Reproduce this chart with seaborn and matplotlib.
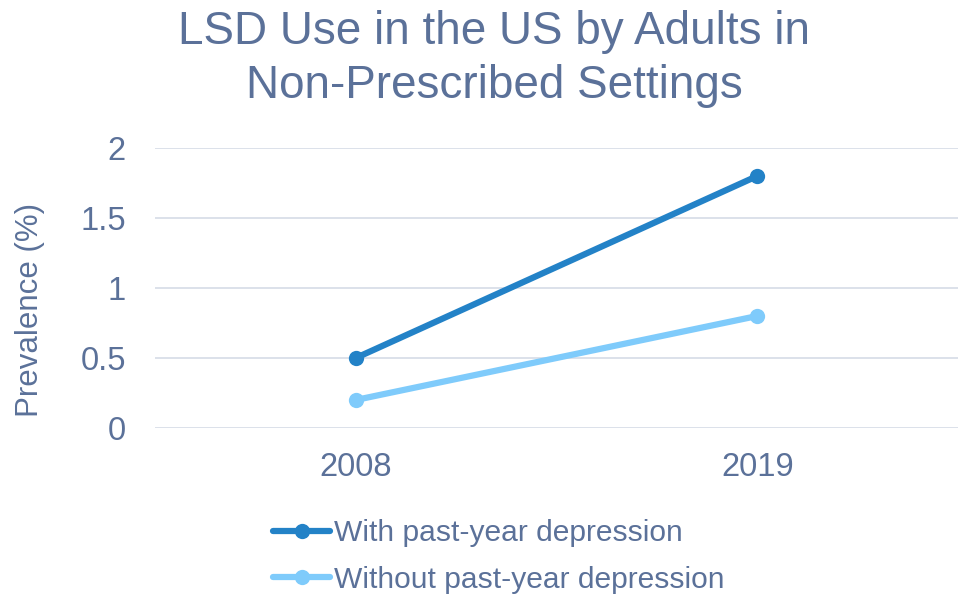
import matplotlib
matplotlib.use("Agg")
import matplotlib.pyplot as plt
import seaborn as sns
import pandas as pd

years = ["2008", "2019"]
with_depression = [0.5, 1.8]
without_depression = [0.2, 0.8]
series_names = ["With past-year depression", "Without past-year depression"]
y_ticks = [0, 0.5, 1, 1.5, 2]
y_tick_labels = ["0", "0.5", "1", "1.5", "2"]

text_color = "#5B7199"
palette = {series_names[0]: "#2382C7", series_names[1]: "#7FCBFB"}

df = pd.DataFrame({
    "Year": years * 2,
    "Prevalence": with_depression + without_depression,
    "Group": [series_names[0]] * 2 + [series_names[1]] * 2,
})

sns.set_theme(style="white")
plt.rcParams["font.family"] = ["Liberation Sans", "DejaVu Sans"]

fig = plt.figure(figsize=(9.59, 5.94), dpi=100)
ax = fig.add_axes([0.1616, 0.2795, 0.8374, 0.4713])

sns.lineplot(data=df, x="Year", y="Prevalence", hue="Group", palette=palette,
             marker="o", markersize=11, markeredgewidth=0, linewidth=4.5,
             ax=ax, sort=False)

ax.set_xlim(-0.5, 1.5)
ax.set_ylim(0, 2)
ax.set_yticks(y_ticks)
ax.set_yticklabels(y_tick_labels)
ax.yaxis.grid(True, color="#D9DEE8", linewidth=1.3)
ax.set_axisbelow(True)
for s in ax.spines.values():
    s.set_visible(False)
ax.tick_params(axis="both", length=0, labelsize=23.5, colors=text_color)
ax.tick_params(axis="y", pad=21)
ax.tick_params(axis="x", pad=17)
ax.set_xlabel("")
ax.set_ylabel("Prevalence (%)", fontsize=22.5, color=text_color)
ax.yaxis.set_label_coords(-0.137, 0.42)

handles, labels = ax.get_legend_handles_labels()
ax.get_legend().remove()
fig.legend(handles, labels, loc="upper left", bbox_to_anchor=(0.2847, 0.126),
           frameon=False, fontsize=21.6, labelcolor=text_color,
           handlelength=1.9, handletextpad=0.12, labelspacing=0.62,
           borderaxespad=0, borderpad=0)

fig.text(0.515, 0.984, "LSD Use in the US by Adults in\nNon-Prescribed Settings",
         ha="center", va="top", fontsize=33, color=text_color, linespacing=1.3)

fig.savefig("out.png", dpi=100)
